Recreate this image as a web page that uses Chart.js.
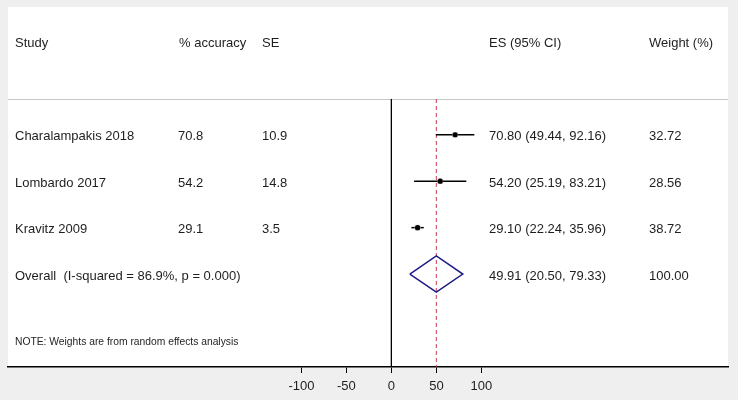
<!DOCTYPE html>
<html>
<head>
<meta charset="utf-8">
<script src="https://cdn.jsdelivr.net/npm/chart.js@4"></script>
<style>
html,body{margin:0;padding:0;background:#efefef;}
#wrap{width:738px;height:400px;}
</style>
</head>
<body>
<div id="wrap"><canvas id="c" width="738" height="400"></canvas></div>
<script>
// ---- data ----
const studies = ['Charalampakis 2018', 'Lombardo 2017', 'Kravitz 2009'];
const accuracy = [70.8, 54.2, 29.1];
const se = [10.9, 14.8, 3.5];
const es = [70.80, 54.20, 29.10];
const ciLow = [49.44, 25.19, 22.24];
const ciHigh = [92.16, 83.21, 35.96];
const weights = [32.72, 28.56, 38.72];
const overallLabel = 'Overall  (I-squared = 86.9%, p = 0.000)';
const overallES = 49.91;
const overallLow = 20.50;
const overallHigh = 79.33;
const overallWeight = 100.00;
const headers = ['Study', '% accuracy', 'SE', 'ES (95% CI)', 'Weight (%)'];
const note = 'NOTE: Weights are from random effects analysis';
const xTicks = [-100, -50, 0, 50, 100];

// ---- layout constants (rows in y-scale units) ----
const studyRows = [2, 3, 4];
const overallRow = 5;
const noteRow = 6.42;
const sepRow = 1.23;
const yMin = -0.75, yMax = 7;
const colX = [15, 178, 262, 489, 649];
const FONT = '"Liberation Sans", Arial, sans-serif';
const TXT = '#1e1e1e';
const TEXT_DY = 2;

const datasets = [];
// point estimates (top)
datasets.push({type:'scatter', order:0, data: es.map((v,i)=>({x:v,y:studyRows[i]})),
  pointStyle:'circle', pointRadius:2.6, backgroundColor:'#000', borderColor:'#000', borderWidth:0});
// weight boxes
datasets.push({type:'scatter', order:1, data: es.map((v,i)=>({x:v,y:studyRows[i]})),
  pointStyle:'rect', pointRadius: weights.map(w=>3+w*0.03), backgroundColor:'#d2d2d2', borderColor:'#d2d2d2', borderWidth:0});
// CI lines
studies.forEach((s,i)=>{
  datasets.push({type:'line', order:2, data:[{x:ciLow[i],y:studyRows[i]},{x:ciHigh[i],y:studyRows[i]}], borderColor:'#000', borderWidth:1.5, pointRadius:0});
});
// overall diamond
const dh = 0.39;
datasets.push({type:'line', order:3, data:[
  {x:overallLow,y:overallRow},{x:overallES,y:overallRow-dh},{x:overallHigh,y:overallRow},{x:overallES,y:overallRow+dh},{x:overallLow,y:overallRow}
], borderColor:'#1c1c86', borderWidth:1.5, pointRadius:0, fill:false, tension:0});
// dashed line at overall effect
datasets.push({type:'line', order:4, data:[{x:overallES,y:sepRow},{x:overallES,y:yMax}], borderColor:'#c43a52', borderWidth:1, borderDash:[4,3], pointRadius:0});
// vertical line at 0
datasets.push({type:'line', order:5, data:[{x:0,y:sepRow},{x:0,y:yMax}], borderColor:'#000', borderWidth:1, pointRadius:0});

const panelPlugin = {
  id:'panel',
  beforeDraw(chart){
    const {ctx, chartArea:a} = chart;
    ctx.save();
    ctx.fillStyle='#ffffff';
    ctx.fillRect(a.left, a.top, a.right-a.left, a.bottom-a.top);
    const y = chart.scales.y;
    const ys = Math.round(y.getPixelForValue(sepRow))+0.5;
    ctx.strokeStyle='#c8c8c8'; ctx.lineWidth=1;
    ctx.beginPath(); ctx.moveTo(a.left, ys); ctx.lineTo(a.right, ys); ctx.stroke();
    ctx.restore();
  },
  afterDraw(chart){
    const {ctx} = chart;
    const y = chart.scales.y;
    const py = v => y.getPixelForValue(v) + TEXT_DY;
    ctx.save();
    ctx.fillStyle=TXT;
    ctx.textBaseline='middle';
    ctx.textAlign='left';
    ctx.font='13px '+FONT;
    headers.forEach((h,i)=>ctx.fillText(h, i===1?colX[1]+1:colX[i], py(0)));
    studies.forEach((s,i)=>{
      const p = py(studyRows[i]);
      ctx.fillText(s, colX[0], p);
      ctx.fillText(accuracy[i].toFixed(1), colX[1], p);
      ctx.fillText(se[i].toFixed(1), colX[2], p);
      ctx.fillText(es[i].toFixed(2)+' ('+ciLow[i].toFixed(2)+', '+ciHigh[i].toFixed(2)+')', colX[3], p);
      ctx.fillText(weights[i].toFixed(2), colX[4], p);
    });
    const po = py(overallRow);
    ctx.fillText(overallLabel, colX[0], po);
    ctx.fillText(overallES.toFixed(2)+' ('+overallLow.toFixed(2)+', '+overallHigh.toFixed(2)+')', colX[3], po);
    ctx.fillText(overallWeight.toFixed(2), colX[4], po);
    ctx.font='10.3px '+FONT;
    ctx.fillText(note, colX[0], py(noteRow));
    ctx.restore();
  }
};

new Chart(document.getElementById('c'), {
  data:{datasets},
  options:{
    responsive:false,
    animation:false,
    events:[],
    layout:{padding:{left:8, right:10, top:7, bottom:0}},
    plugins:{legend:{display:false}, tooltip:{enabled:false}},
    scales:{
      x:{type:'linear', min:-426, max:374, position:'bottom',
        afterBuildTicks(s){ s.ticks = xTicks.map(v=>({value:v})); },
        afterFit(s){ s.height = 33; },
        grid:{display:true, drawOnChartArea:false, drawTicks:true, tickLength:6, color:'#000', tickWidth:1},
        border:{display:true, color:'#000', width:1.5},
        ticks:{color:TXT, font:{family:FONT, size:13}, padding:6, maxRotation:0, autoSkip:false}
      },
      y:{type:'linear', display:false, min:yMin, max:yMax, reverse:true}
    }
  },
  plugins:[panelPlugin]
});
</script>
</body>
</html>
